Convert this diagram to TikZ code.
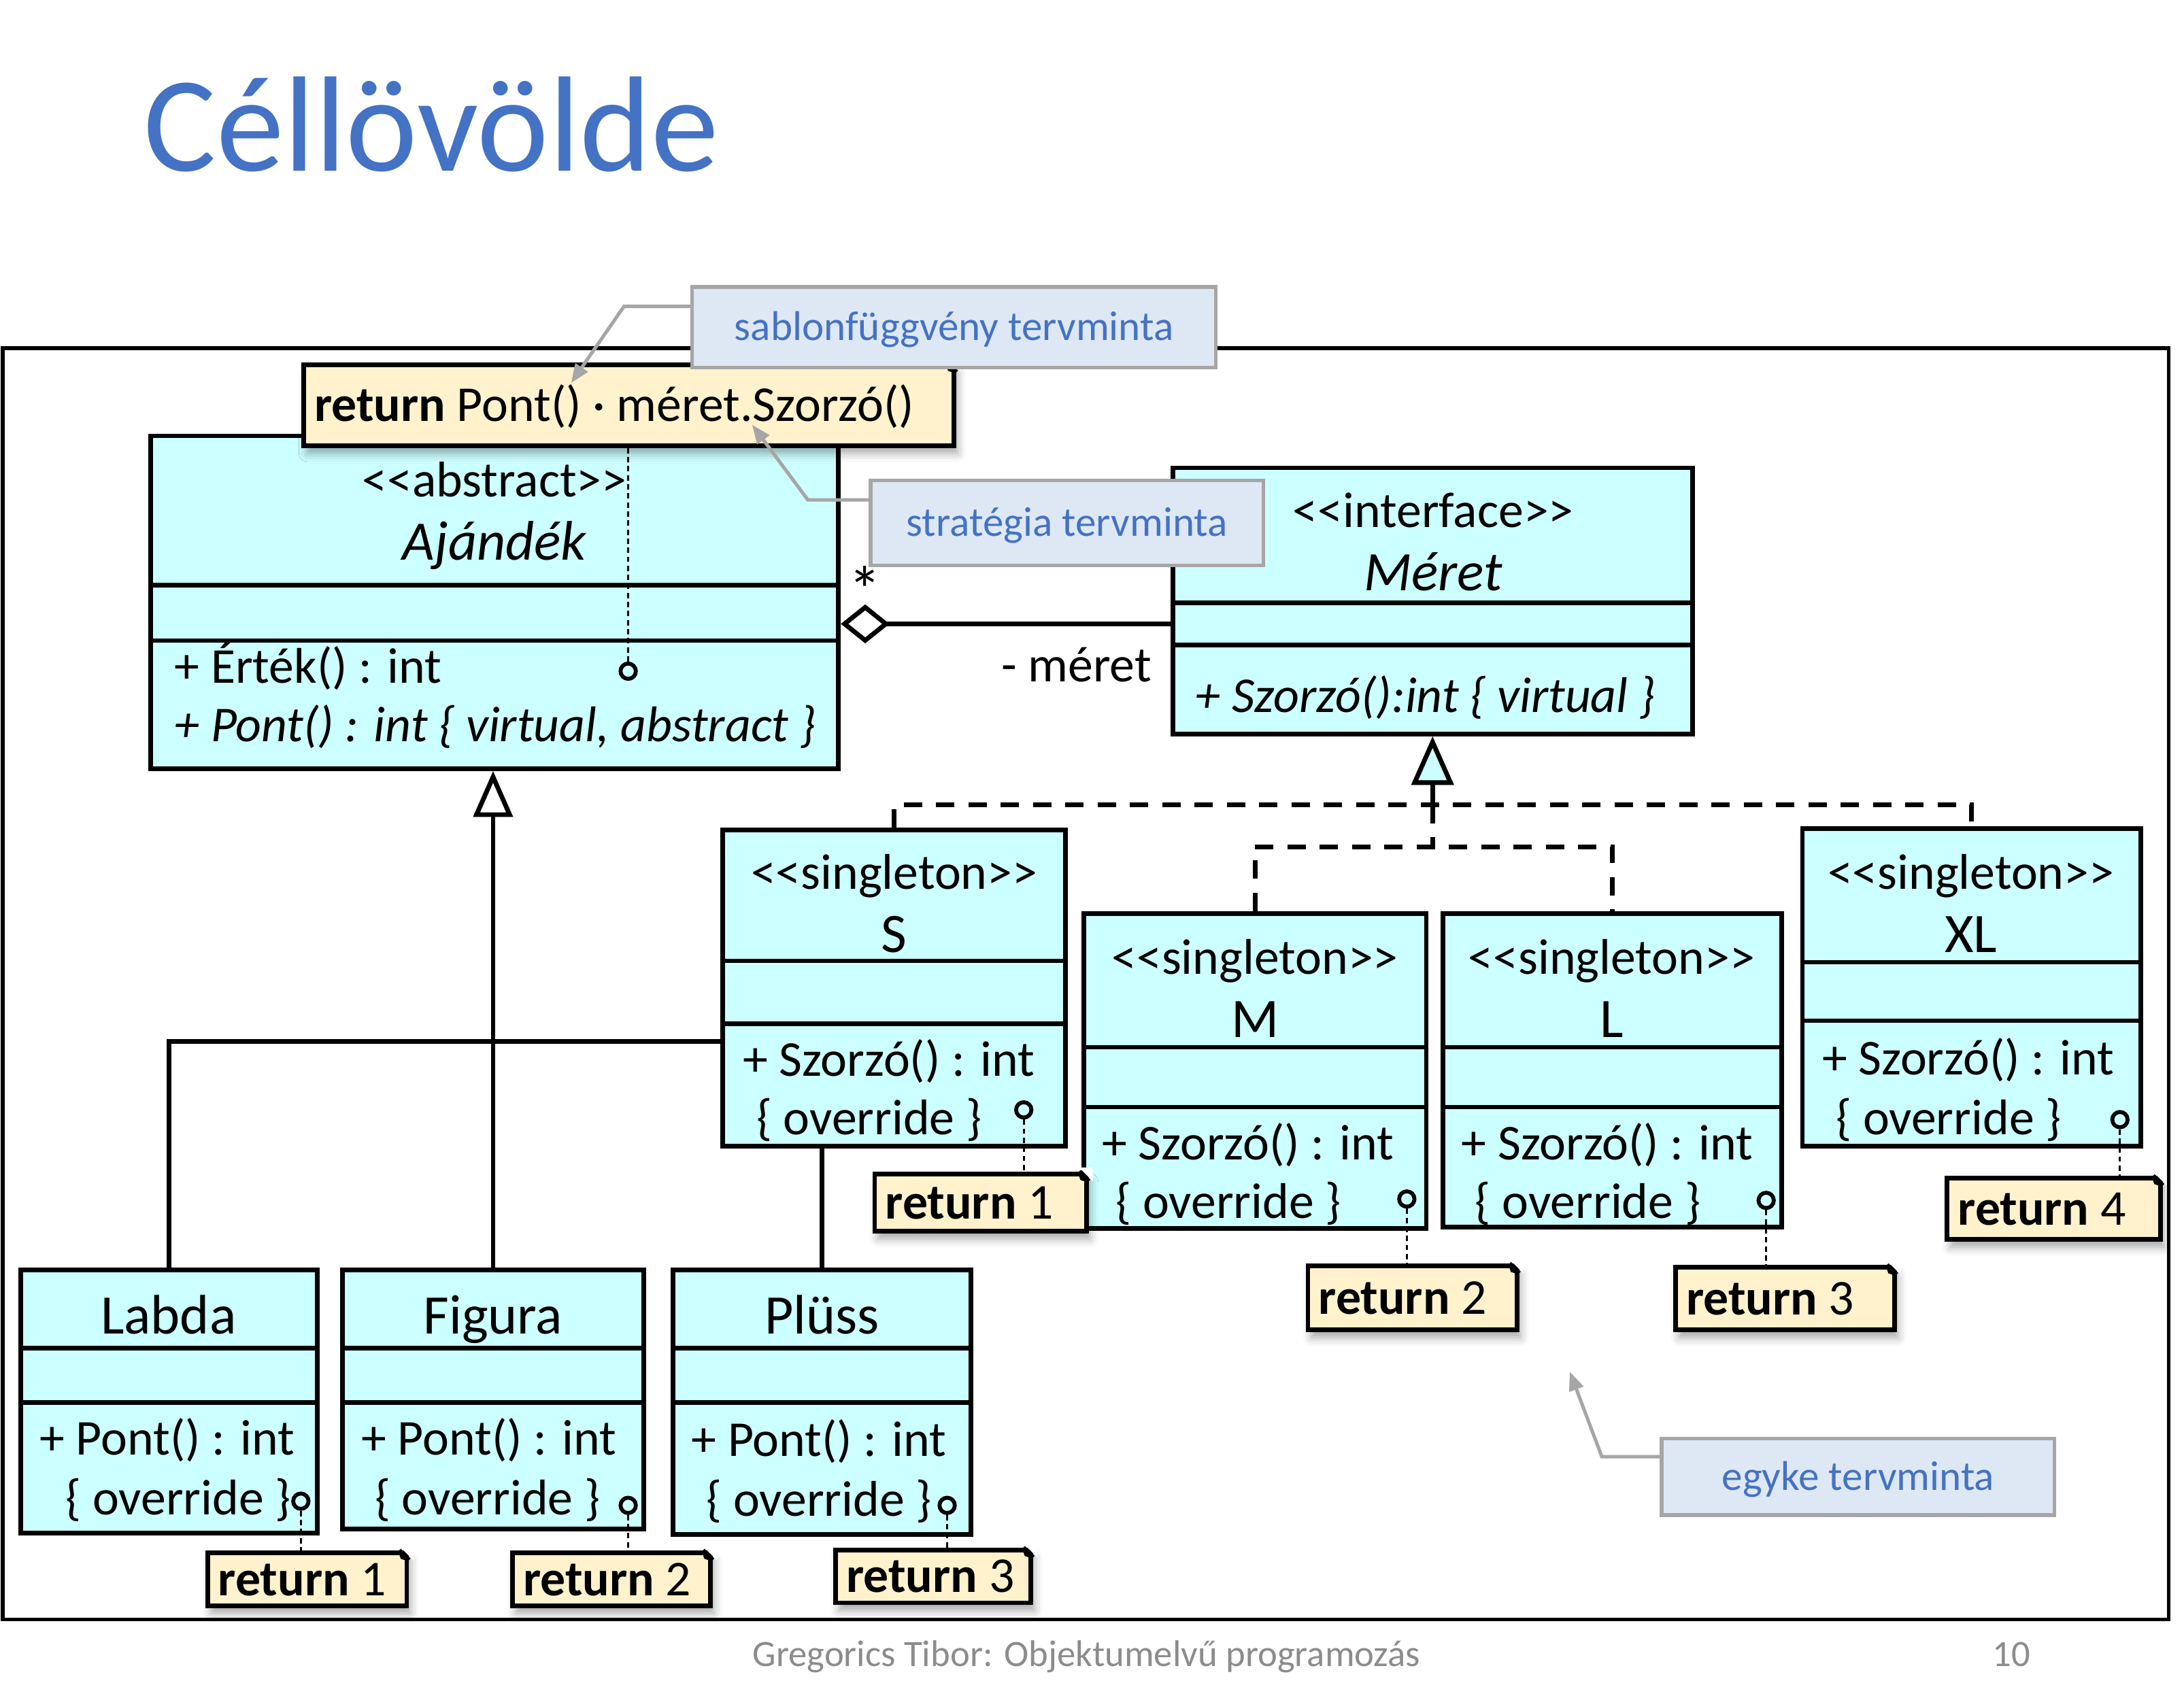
\documentclass[tikz,border=0pt]{standalone}
\usepackage{fontspec}
\newfontfamily\uml{Carlito}
\usetikzlibrary{arrows.meta,fit,shadows.blur}
\definecolor{clscyan}{HTML}{CCFFFF}
\definecolor{notefill}{HTML}{FFF2CC}
\definecolor{callfill}{HTML}{DEE8F4}
\definecolor{callgray}{HTML}{A6A6A6}
\definecolor{pblue}{HTML}{4472C4}
\definecolor{footgray}{HTML}{8C8C8C}

% class rectangle with two compartment separators
\newcommand\classbox[7]{%
  \node[cls, fit={(#2,#3) (#4,#5)}] (#1) {};
  \draw[sepl] (#1.west |- 0,#6) -- (#1.east |- 0,#6);
  \draw[sepl] (#1.west |- 0,#7) -- (#1.east |- 0,#7);
}
% comment note with a dog-ear and its text
\newcommand\notebox[6]{%
  \node[note, fit={(#2,#3) (#4,#5)}] (#1) {};
  \fill[white] ([shift={(-7,-3)}]#1.north east) -- ([shift={(3,-3)}]#1.north east) -- ([shift={(3,7)}]#1.north east) -- cycle;
  \draw[line width=1.9pt] ([shift={(-7,0)}]#1.north east) -- ([shift={(0,7)}]#1.north east);
  \fill ([shift={(-8,0)}]#1.north east) -- ([shift={(0,8)}]#1.north east) -- ([shift={(-6,6)}]#1.north east) -- cycle;
  \node[txt, anchor=west] (#1-t) at ([xshift=0.18cm]#1.west) {#6};
}
% design pattern callout box with centred label
\newcommand\callbox[6]{%
  \node[callout, fit={(#2,#3) (#4,#5)}] (#1) {};
  \node[calltxt] (#1-t) at (#1.center) {#6};
}

\begin{document}
\begin{tikzpicture}[x=0.02cm, y=-0.02cm,
  txt/.style={font=\uml\fontsize{20.5}{24}\selectfont, inner sep=0pt, text height=13.2pt, text depth=0pt},
  itxt/.style={txt, font=\uml\itshape\fontsize{20.5}{24}\selectfont},
  cname/.style={font=\uml\fontsize{22.8}{27}\selectfont, inner sep=0pt, text height=14.7pt, text depth=0pt},
  icname/.style={cname, font=\uml\itshape\fontsize{22.8}{27}\selectfont},
  cls/.style={draw, fill=clscyan, line width=1.9pt, inner sep=0pt},
  sepl/.style={line width=1.9pt},
  genl/.style={line width=1.9pt},
  real/.style={line width=1.9pt, dash pattern=on 7.5pt off 5.7pt},
  port/.style={circle, draw, fill=clscyan, line width=1.6pt, minimum size=0.22cm, inner sep=0pt},
  nlink/.style={line width=0.75pt, dash pattern=on 2.2pt off 1.5pt},
  note/.style={draw, fill=notefill, line width=1.9pt, inner sep=0pt,
    blur shadow={shadow xshift=0.05cm, shadow yshift=-0.11cm, shadow blur radius=0.12cm, shadow opacity=35}},
  callout/.style={draw=callgray, fill=callfill, line width=1.5pt, inner sep=0pt},
  calltxt/.style={text=pblue, inner sep=0pt, font=\uml\fontsize{17}{20}\selectfont, text height=10.9pt, text depth=0pt},
  calll/.style={draw=callgray, line width=1.4pt, -{Triangle[length=0.27cm, width=0.21cm]}},
]
\useasboundingbox (0,0) rectangle (1568,1219);

% title and footer
\node[font=\uml\fontsize{55.5}{60}\selectfont, text=pblue, inner sep=0pt, anchor=base west] (title) at (103,123) {Céllövölde};
\node[font=\uml\fontsize{15.2}{18}\selectfont, text=footgray, inner sep=0pt, text height=9.8pt, text depth=0pt] (foot) at (780,1188) {Gregorics Tibor: Objektumelvű programozás};
\node[font=\uml\fontsize{15.2}{18}\selectfont, text=footgray, inner sep=0pt, text height=9.8pt, text depth=0pt] (page) at (1444,1188) {10};

% diagram frame
\node[draw, line width=1.5pt, inner sep=0pt, fit={(2,250) (1557,1163)}] (frame) {};

% abstract base class
\classbox{ajandek}{108}{313}{602}{552}{420}{460}
\node[txt] (aj-st) at (355,345) {<<abstract>>};
\node[icname] (aj-n) at (355,389) {Ajándék};
\node[txt, anchor=west] (aj-o1) at (125,479) {+ Érték() : int};
\node[itxt, anchor=west] (aj-o2) at (125,521) {+ Pont() : int \{ virtual, abstract \}};

% concrete gifts
\classbox{labda}{15}{912}{228}{1101}{968}{1007}
\node[cname] (la-n) at (121,945) {Labda};
\node[txt] (la-o1) at (120,1033) {+ Pont() : int};
\node[txt] (la-o2) at (128,1076) {\{ override \}};

\classbox{figura}{246}{912}{462}{1098}{968}{1007}
\node[cname] (fi-n) at (354,945) {Figura};
\node[txt] (fi-o1) at (351,1033) {+ Pont() : int};
\node[txt] (fi-o2) at (350,1076) {\{ override \}};

\classbox{plussz}{483}{912}{697}{1102}{968}{1007}
\node[cname] (pl-n) at (590,945) {Plüss};
\node[txt] (pl-o1) at (588,1034) {+ Pont() : int};
\node[txt] (pl-o2) at (588,1077) {\{ override \}};

% inheritance tree of the gifts (the S box is laid over its crossing)
\coordinate (tree) at (354,748);
\draw[genl] (labda.north) |- (plussz.north |- tree) -- (plussz.north);
\draw[genl, -{Triangle[fill=white, length=0.66cm, width=0.56cm]}] (figura.north) -- (figura.north |- ajandek.south);

% singleton sizes
\classbox{sS}{519}{596}{765}{823}{690}{735}
\node[txt] (s-st) at (642,627) {<<singleton>>};
\node[cname] (s-n) at (642,671) {S};
\node[txt] (s-o1) at (638,761) {+ Szorzó() : int};
\node[txt] (s-o2) at (624,803) {\{ override \}};

\classbox{mM}{778}{656}{1024}{882}{752}{795}
\node[txt] (m-st) at (901,688) {<<singleton>>};
\node[cname] (m-n) at (901,732) {M};
\node[txt] (m-o1) at (896,821) {+ Szorzó() : int};
\node[txt] (m-o2) at (882,863) {\{ override \}};

\classbox{lL}{1036}{656}{1279}{881}{752}{795}
\node[txt] (l-st) at (1157,688) {<<singleton>>};
\node[cname] (l-n) at (1157,732) {L};
\node[txt] (l-o1) at (1154,821) {+ Szorzó() : int};
\node[txt] (l-o2) at (1140,863) {\{ override \}};

\classbox{xl}{1294}{595}{1537}{823}{691}{733}
\node[txt] (xl-st) at (1415,627) {<<singleton>>};
\node[cname] (xl-n) at (1415,671) {XL};
\node[txt] (xl-o1) at (1413,760) {+ Szorzó() : int};
\node[txt] (xl-o2) at (1399,803) {\{ override \}};

% interface
\classbox{meret}{842}{336}{1215}{527}{433}{463}
\node[txt] (me-st) at (1029,367) {<<interface>>};
\node[icname] (me-n) at (1029,411) {Méret};
\node[itxt, anchor=west] (me-o1) at (858,500) {+ Szorzó():int \{ virtual \}};

% realization of the interface
\coordinate (r1) at (meret.south |- 0,578);
\coordinate (r2) at (meret.south |- 0,608);
\draw[genl, -{Triangle[fill=clscyan, length=0.7cm, width=0.6cm]}] (r1) -- (meret.south);
\draw[real] (r1) -- (r2);
\draw[real] (sS.north) |- (r1) -| (xl.north);
\draw[real] (mM.north) |- (r2) -| (lL.north);

% aggregation
\coordinate (agg) at (0,448);
\draw[genl, {Diamond[fill=white, length=0.7cm, width=0.56cm]}-] (ajandek.east |- agg) -- (meret.west |- agg);
\node[font=\uml\fontsize{27}{30}\selectfont, inner sep=0pt, anchor=base] (mult) at (621,440) {*};
\node[txt, anchor=east] (role) at (827,478) {- méret};

% operation ports
\node[port] (aj-p) at (451,482) {};
\node[port] (s-p) at (735,797) {};
\node[port] (m-p) at (1010,861) {};
\node[port] (l-p) at (1268,862) {};
\node[port] (xl-p) at (1522,804) {};
\node[port] (la-p) at (216,1078) {};
\node[port] (fi-p) at (451,1081) {};
\node[port] (pl-p) at (680,1081) {};

% method body notes
\notebox{pnote}{218}{262}{685}{320}{\textbf{return} Pont() · méret.Szorzó()}
\notebox{s-r}{628}{843}{780}{884}{\textbf{return} 1}
\notebox{m-r}{939}{909}{1089}{955}{\textbf{return} 2}
\notebox{l-r}{1203}{910}{1360}{955}{\textbf{return} 3}
\notebox{xl-r}{1398}{846}{1551}{890}{\textbf{return} 4}
\notebox{la-r}{149}{1115}{292}{1153}{\textbf{return} 1}
\notebox{fi-r}{368}{1115}{510}{1153}{\textbf{return} 2}
\notebox{pl-r}{600}{1113}{740}{1151}{\textbf{return} 3}

\draw[nlink] (aj-p.north) -- (aj-p.north |- pnote.south);
\draw[nlink] (s-p.south) -- (s-p.south |- s-r.north);
\draw[nlink] (m-p.south) -- (m-p.south |- m-r.north);
\draw[nlink] (l-p.south) -- (l-p.south |- l-r.north);
\draw[nlink] (xl-p.south) -- (xl-p.south |- xl-r.north);
\draw[nlink] (la-p.south) -- (la-p.south |- la-r.north);
\draw[nlink] (fi-p.south) -- (fi-p.south |- fi-r.north);
\draw[nlink] (pl-p.south) -- (pl-p.south |- pl-r.north);

% design pattern callouts
\callbox{sablon}{497}{206}{873}{264}{sablonfüggvény tervminta}
\coordinate (sablon-k) at (448,220);
\coordinate (sablon-t) at (410,275);
\draw[calll] (sablon.west |- sablon-k) -- (sablon-k) -- (sablon-t);

\callbox{strat}{625}{345}{907}{406}{stratégia tervminta}
\coordinate (strat-k) at (580,359);
\coordinate (strat-t) at (540,305);
\draw[calll] (strat.west |- strat-k) -- (strat-k) -- (strat-t);

\callbox{egyke}{1193}{1033}{1475}{1088}{egyke tervminta}
\coordinate (egyke-k) at (1150,1046);
\coordinate (egyke-t) at (1127,985);
\draw[calll] (egyke.west |- egyke-k) -- (egyke-k) -- (egyke-t);
\end{tikzpicture}
\end{document}
